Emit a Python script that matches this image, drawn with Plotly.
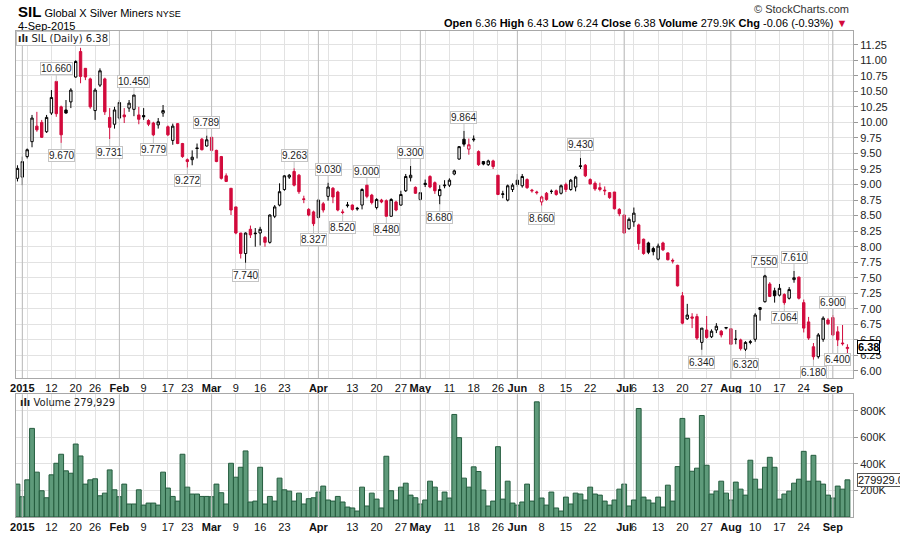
import numpy as np
import pandas as pd
import plotly.graph_objects as go

# ---------------- data ----------------
holidays = ["2015-01-19", "2015-02-16", "2015-04-03", "2015-05-25", "2015-07-03"]

opens = [
    9.10,
    9.12, 9.45, 9.69, 9.94, 10.00, 9.85, 10.15, 10.66, 10.25, 10.20,
    10.33, 10.73, 11.14, 10.87, 10.70, 10.19, 10.60, 10.70, 10.08, 9.97,
    10.07, 10.12, 10.23, 10.21, 10.12, 10.11, 10.03, 9.99, 9.96, 10.15,
    9.93, 9.71, 9.98, 9.66, 9.40, 9.40, 9.59, 9.73, 9.62, 9.76,
    9.55, 9.45, 9.14, 8.94, 8.64, 8.22, 7.89, 8.28, 8.22, 8.22,
    8.15, 8.07, 8.49, 8.67, 8.92, 9.12, 9.21, 9.15, 8.77, 8.60,
    8.56, 8.47, 8.69, 8.81, 8.94, 8.88, 8.56, 8.66, 8.67, 8.62,
    8.67, 8.99, 8.83, 8.63, 8.75, 8.74, 8.49, 8.72, 8.67, 8.90,
    9.11, 8.955, 8.76, 9.02, 9.13, 9.03, 8.82, 8.98, 8.99, 9.17,
    9.41, 9.73, 9.57, 9.72, 9.53, 9.37, 9.32, 9.38, 9.15, 8.84,
    8.75, 8.92, 9.07, 8.98, 9.08, 8.91, 8.88, 8.72, 8.86, 8.89,
    8.90, 8.86, 9.00, 8.92, 8.96, 9.29, 9.31, 9.08, 9.02, 8.95,
    8.91, 8.87, 8.88, 8.60, 8.51, 8.29, 8.40, 8.35, 8.12, 8.06,
    7.97, 7.80, 8.06, 7.90, 7.78, 7.70, 7.21, 6.84, 6.87, 6.875,
    6.46, 6.66, 6.55, 6.66, 6.64, 6.69, 6.68, 6.51, 6.50, 6.35,
    6.46, 6.51, 6.99, 7.115, 7.40, 7.29, 7.22, 7.23, 7.17, 7.47,
    7.51, 7.10, 6.79, 6.39, 6.23, 6.51, 6.82, 6.86, 6.63, 6.45,
    6.36]

highs = [
    9.31,
    9.45, 9.58, 10.12, 10.17, 10.04, 10.12, 10.52, 10.66, 10.27, 10.36,
    10.55, 11.00, 11.20, 10.87, 10.72, 10.55, 10.87, 10.72, 10.23, 10.25,
    10.36, 10.23, 10.36, 10.45, 10.25, 10.23, 10.05, 10.01, 10.07, 10.28,
    9.95, 9.98, 9.99, 9.67, 9.42, 9.55, 9.66, 9.75, 9.789, 9.77,
    9.56, 9.46, 9.18, 8.94, 8.64, 8.22, 8.23, 8.34, 8.30, 8.32,
    8.17, 8.52, 8.67, 9.02, 9.15, 9.17, 9.263, 9.17, 8.82, 8.62,
    8.58, 8.77, 8.72, 9.03, 8.96, 8.90, 8.60, 8.72, 8.68, 8.64,
    8.94, 9.00, 8.85, 8.78, 8.77, 8.76, 8.78, 8.74, 8.90, 9.17,
    9.30, 8.97, 8.88, 9.08, 9.15, 9.05, 8.99, 9.07, 9.10, 9.24,
    9.62, 9.864, 9.74, 9.79, 9.55, 9.38, 9.40, 9.40, 9.15, 8.90,
    9.00, 9.02, 9.17, 9.17, 9.10, 8.93, 8.90, 8.82, 8.88, 8.92,
    8.92, 9.00, 9.03, 9.09, 9.14, 9.43, 9.33, 9.10, 9.05, 9.03,
    8.97, 8.88, 8.88, 8.62, 8.52, 8.47, 8.63, 8.37, 8.13, 8.08,
    8.00, 8.05, 8.08, 7.91, 7.81, 7.71, 7.27, 7.08, 6.93, 6.92,
    6.69, 6.885, 6.67, 6.77, 6.66, 6.70, 6.68, 6.66, 6.52, 6.48,
    6.50, 6.93, 7.03, 7.55, 7.43, 7.34, 7.40, 7.25, 7.35, 7.61,
    7.52, 7.15, 6.87, 6.45, 6.61, 6.88, 6.85, 6.90, 6.72, 6.74,
    6.43]

lows = [
    9.05,
    8.99, 9.42, 9.60, 9.85, 9.75, 9.83, 10.12, 10.09, 9.67, 10.14,
    10.23, 10.72, 10.63, 10.68, 10.22, 10.04, 10.57, 10.12, 9.731, 9.90,
    10.04, 9.99, 10.17, 10.10, 9.97, 10.04, 9.94, 9.779, 9.90, 10.09,
    9.78, 9.64, 9.65, 9.43, 9.272, 9.31, 9.42, 9.55, 9.61, 9.53,
    9.36, 9.08, 9.04, 8.51, 8.20, 7.81, 7.74, 8.14, 8.00, 8.02,
    8.00, 8.05, 8.46, 8.65, 8.90, 9.09, 8.97, 8.85, 8.70, 8.49,
    8.327, 8.45, 8.55, 8.74, 8.70, 8.57, 8.52, 8.63, 8.58, 8.58,
    8.60, 8.78, 8.68, 8.60, 8.70, 8.48, 8.485, 8.57, 8.66, 8.88,
    9.05, 8.85, 8.74, 8.96, 8.94, 8.85, 8.68, 8.94, 8.96, 9.15,
    9.40, 9.61, 9.48, 9.69, 9.30, 9.31, 9.30, 9.25, 8.83, 8.78,
    8.73, 8.88, 8.96, 8.95, 8.93, 8.87, 8.84, 8.66, 8.74, 8.85,
    8.82, 8.84, 8.88, 8.90, 8.89, 9.25, 9.12, 9.00, 8.90, 8.89,
    8.83, 8.77, 8.60, 8.49, 8.21, 8.27, 8.32, 7.95, 7.87, 7.88,
    7.86, 7.78, 7.93, 7.78, 7.73, 7.36, 6.75, 6.82, 6.69, 6.50,
    6.34, 6.52, 6.53, 6.61, 6.54, 6.67, 6.43, 6.43, 6.33, 6.32,
    6.43, 6.47, 6.81, 7.10, 7.19, 7.10, 7.20, 7.064, 7.15, 7.42,
    7.15, 6.62, 6.50, 6.18, 6.20, 6.47, 6.74, 6.56, 6.40, 6.41,
    6.24]

closes = [
    9.26,
    9.37, 9.56, 10.07, 9.88, 9.76, 10.08, 10.40, 10.14, 9.80, 10.15,
    10.52, 10.98, 10.74, 10.73, 10.25, 10.52, 10.83, 10.17, 9.92, 10.20,
    10.32, 10.09, 10.31, 10.44, 10.05, 10.09, 9.97, 9.80, 10.01, 10.19,
    9.80, 9.94, 9.66, 9.45, 9.37, 9.44, 9.58, 9.56, 9.72, 9.55,
    9.37, 9.10, 9.05, 8.59, 8.22, 7.89, 8.22, 8.19, 8.21, 8.28,
    8.07, 8.51, 8.64, 8.885, 9.14, 9.15, 8.99, 8.885, 8.76, 8.51,
    8.37, 8.75, 8.59, 8.96, 8.80, 8.59, 8.55, 8.67, 8.60, 8.61,
    8.92, 8.81, 8.71, 8.76, 8.72, 8.49, 8.76, 8.59, 8.84, 9.13,
    9.15, 8.86, 8.87, 9.00, 8.96, 8.90, 8.92, 8.99, 9.07, 9.22,
    9.61, 9.65, 9.64, 9.73, 9.32, 9.33, 9.38, 9.29, 8.84, 8.85,
    8.98, 8.99, 9.00, 9.13, 8.95, 8.90, 8.87, 8.80, 8.76, 8.89,
    8.84, 8.98, 8.92, 9.07, 9.12, 9.30, 9.14, 9.01, 8.93, 8.92,
    8.90, 8.79, 8.61, 8.53, 8.22, 8.44, 8.54, 8.05, 7.89, 7.91,
    7.92, 8.01, 7.95, 7.79, 7.77, 7.37, 6.77, 6.90, 6.85, 6.53,
    6.69, 6.54, 6.64, 6.72, 6.58, 6.70, 6.43, 6.51, 6.36, 6.46,
    6.47, 6.90, 7.02, 7.53, 7.20, 7.21, 7.33, 7.10, 7.31, 7.50,
    7.17, 6.69, 6.53, 6.23, 6.58, 6.85, 6.76, 6.58, 6.50, 6.44,
    6.38]

volume_k = [
    248,
    153, 280, 668, 338, 198, 145, 318, 405, 473, 348,
    330, 550, 460, 248, 280, 288, 160, 180, 355, 205,
    153, 248, 98, 98, 205, 90, 105, 105, 90, 338,
    218, 155, 120, 473, 225, 173, 173, 155, 155, 153,
    248, 183, 98, 405, 300, 375, 498, 113, 120, 375,
    98, 155, 120, 293, 205, 195, 120, 180, 98, 138,
    145, 188, 233, 128, 120, 155, 113, 75, 68, 45,
    225, 83, 180, 135, 68, 458, 198, 128, 225, 255,
    165, 145, 98, 128, 270, 225, 120, 188, 143, 773,
    598, 293, 225, 378, 343, 203, 83, 120, 530, 135,
    270, 105, 90, 113, 248, 120, 868, 143, 90, 188,
    68, 45, 150, 98, 180, 173, 128, 225, 173, 165,
    120, 90, 128, 210, 248, 83, 128, 818, 150, 128,
    105, 150, 75, 240, 120, 380, 743, 593, 345, 368,
    765, 390, 173, 195, 270, 180, 128, 263, 210, 165,
    428, 285, 210, 375, 450, 375, 135, 173, 195, 255,
    285, 495, 270, 465, 270, 248, 165, 143, 233, 210,
    279.929]

tick_dates = ["2015-01-02", "2015-01-12", "2015-01-20", "2015-01-26",
              "2015-02-02", "2015-02-09", "2015-02-17", "2015-02-23",
              "2015-03-02", "2015-03-09", "2015-03-16", "2015-03-23",
              "2015-04-01", "2015-04-13", "2015-04-20", "2015-04-27",
              "2015-05-01", "2015-05-11", "2015-05-18", "2015-05-26",
              "2015-06-01", "2015-06-08", "2015-06-15", "2015-06-22",
              "2015-07-01", "2015-07-06", "2015-07-13", "2015-07-20", "2015-07-27",
              "2015-08-03", "2015-08-10", "2015-08-17", "2015-08-24",
              "2015-09-01"]
tick_labels = ["2015", "12", "20", "26", "Feb", "9", "17", "23",
               "Mar", "9", "16", "23", "Apr", "13", "20", "27",
               "May", "11", "18", "26", "Jun", "8", "15", "22",
               "Jul", "6", "13", "20", "27", "Aug", "10", "17", "24", "Sep"]

# trading days whose high / low carries a value tag
high_tags = [7, 23, 38, 56, 63, 71, 80, 91, 115, 153, 159, 167]
low_tags = [8, 18, 27, 34, 46, 60, 66, 75, 86, 107, 140, 149, 157, 163, 168]

# ---------------- derived ----------------
trading_days = pd.bdate_range("2015-01-02", "2015-09-04")
trading_days = trading_days[~trading_days.isin(pd.to_datetime(holidays))]
dates = [pd.Timestamp("2014-12-31")] + list(trading_days)
date_index = {d.strftime("%Y-%m-%d"): i - 1 for i, d in enumerate(dates)}

o = np.array(opens); h = np.array(highs); l = np.array(lows); c = np.array(closes)
n = len(c)
x = np.arange(n) - 1
prev_c = np.concatenate([[c[0]], c[:-1]])
up = c >= prev_c

tick_x = [date_index[d] for d in tick_dates]
tick_text = [t if t.isdigit() and t != "2015" else f"<b>{t}</b>" for t in tick_labels]

td = pd.Series(trading_days)
iso = td.dt.isocalendar()
wkey = iso["year"].astype(str) + "-" + iso["week"].astype(str)
week_starts = [date_index[d.strftime("%Y-%m-%d")] for d in td[wkey != wkey.shift()]]
month_starts = [date_index[d.strftime("%Y-%m-%d")] for d in td[td.dt.month != td.dt.month.shift()]]
minor_x = sorted(set(week_starts) - set(tick_x))

PRICE_RANGE = [5.8825, 11.4706]
VOL_RANGE = [0, 925000]

RED = "#d20a3c"
fig = go.Figure()

# darker month separators, drawn beneath the candles / bars
mx, my, my2 = [], [], []
for m in month_starts:
    mx += [m, m, None]
    my += [PRICE_RANGE[0], PRICE_RANGE[1], None]
    my2 += [VOL_RANGE[0], VOL_RANGE[1], None]
fig.add_trace(go.Scatter(x=mx, y=my, mode="lines", line=dict(color="#bcbcbc", width=1),
                         hoverinfo="skip", showlegend=False))
fig.add_trace(go.Scatter(x=mx, y=my2, xaxis="x2", yaxis="y2", mode="lines",
                         line=dict(color="#bcbcbc", width=1), hoverinfo="skip", showlegend=False))

fig.add_trace(go.Candlestick(
    x=x[up], open=o[up], high=h[up], low=l[up], close=c[up],
    increasing=dict(line=dict(color="black", width=1), fillcolor="white"),
    decreasing=dict(line=dict(color="black", width=1), fillcolor="black"),
    showlegend=False, hoverinfo="skip"))
fig.add_trace(go.Candlestick(
    x=x[~up], open=o[~up], high=h[~up], low=l[~up], close=c[~up],
    increasing=dict(line=dict(color=RED, width=1), fillcolor="white"),
    decreasing=dict(line=dict(color=RED, width=1), fillcolor=RED),
    showlegend=False, hoverinfo="skip"))
fig.add_trace(go.Bar(
    x=x, y=np.array(volume_k) * 1000, xaxis="x2", yaxis="y2", width=1,
    marker=dict(color="#5e9a7a", line=dict(color="#245c3e", width=1)),
    showlegend=False, hoverinfo="skip"))

GRID = "#e2e2e2"
AXL = "#a8a8a8"
xcommon = dict(range=[-1.3, 171.15], tickmode="array", tickvals=tick_x, ticktext=tick_text,
               tickangle=0, showgrid=True, gridcolor=GRID, gridwidth=1, automargin=False,
               minor=dict(tickmode="array", tickvals=minor_x, showgrid=True, gridcolor=GRID, ticks=""),
               showline=True, mirror=True, linecolor=AXL, ticks="", zeroline=False,
               tickfont=dict(family="Liberation Sans", size=11, color="#111"),
               rangeslider=dict(visible=False), fixedrange=True)
ytick_font = dict(family="Liberation Sans", size=11, color="#222")

fig.update_layout(
    width=900, height=534, margin=dict(l=16, r=47, t=31, b=17, autoexpand=False),
    paper_bgcolor="white", plot_bgcolor="white", showlegend=False, hovermode=False,
    xaxis=dict(domain=[0, 1], anchor="y", **xcommon),
    xaxis2=dict(domain=[0, 1], anchor="y2", matches="x", **xcommon),
    yaxis=dict(domain=[0.2854, 1], anchor="x", side="right", range=PRICE_RANGE, automargin=False,
               tickmode="array", tickvals=list(np.arange(6.0, 11.26, 0.25)), tickformat=".2f",
               showgrid=True, gridcolor=GRID, ticks="outside", ticklen=4, tickcolor="#999",
               showline=True, mirror=True, linecolor=AXL, zeroline=False, tickfont=ytick_font),
    yaxis2=dict(domain=[0, 0.2525], anchor="x2", side="right", range=VOL_RANGE, automargin=False,
                tickmode="array", tickvals=[200000, 400000, 600000, 800000],
                ticktext=["200K", "400K", "600K", "800K"],
                showgrid=True, gridcolor=GRID, ticks="outside", ticklen=4, tickcolor="#999",
                showline=True, mirror=True, linecolor=AXL, zeroline=False, tickfont=ytick_font),
)

# value tags on swing highs / lows
ann = []
tag_font = dict(family="Liberation Sans", size=10, color="#222")
for i in high_tags:
    ann.append(dict(x=i, y=h[i + 1], xref="x", yref="y", text=f"{h[i + 1]:.3f}",
                    showarrow=True, arrowhead=0, arrowwidth=1, arrowcolor="#c4c4c4",
                    ax=0, ay=-13, bgcolor="white", bordercolor="#c4c4c4",
                    borderwidth=1, borderpad=0, font=tag_font))
for i in low_tags:
    ann.append(dict(x=i, y=l[i + 1], xref="x", yref="y", text=f"{l[i + 1]:.3f}",
                    showarrow=True, arrowhead=0, arrowwidth=1, arrowcolor="#c4c4c4",
                    ax=0, ay=13, bgcolor="white", bordercolor="#c4c4c4",
                    borderwidth=1, borderpad=0, font=tag_font))

def py(pix):
    return (517 - pix) / 486.0

last = len(c) - 1
chg = c[last] - c[last - 1]
ann += [
    dict(xref="paper", yref="paper", x=0, y=py(11.5), xanchor="left", yanchor="middle", showarrow=False,
         text="<span style='font-size:15px'><b>SIL</b></span> Global X Silver Miners "
              "<span style='font-size:9px'>NYSE</span>",
         font=dict(family="Liberation Sans", size=11, color="#000")),
    dict(xref="paper", yref="paper", x=0, y=py(25.5), xanchor="left", yanchor="middle", showarrow=False,
         text=dates[-1].strftime("%-d-%b-%Y"), font=dict(family="Liberation Sans", size=11, color="#000")),
    dict(xref="paper", yref="paper", x=1, xshift=-2, y=py(9), xanchor="right", yanchor="middle",
         showarrow=False, text="© StockCharts.com",
         font=dict(family="Liberation Sans", size=11, color="#333")),
    dict(xref="paper", yref="paper", x=1, xshift=-4, y=py(23.5), xanchor="right", yanchor="middle",
         showarrow=False,
         text=(f"<b>Open</b> {o[last]:.2f} <b>High</b> {h[last]:.2f} <b>Low</b> {l[last]:.2f} "
               f"<b>Close</b> {c[last]:.2f} <b>Volume</b> {volume_k[last]:.1f}K "
               f"<b>Chg</b> {chg:.2f} ({chg / c[last - 1] * 100:.2f}%) "
               f"<span style='color:{RED}'>▼</span>"),
         font=dict(family="Liberation Sans", size=11, color="#000")),
    dict(xref="paper", yref="paper", x=0, y=1, xanchor="left", yanchor="top", showarrow=False,
         text=f"<b>ılı</b> SIL (Daily) {c[last]:.2f}", bgcolor="white", bordercolor="#c4c4c4",
         borderwidth=1, borderpad=1, font=dict(family="DejaVu Sans", size=10, color="#222")),
    dict(xref="paper", yref="paper", x=0, xshift=2, y=py(402), xanchor="left", yanchor="middle",
         showarrow=False, text=f"<b>ılı</b> Volume {int(round(volume_k[last] * 1000)):,}",
         font=dict(family="DejaVu Sans", size=10, color="#222")),
    dict(xref="paper", yref="y", x=1, xshift=4, y=c[last], xanchor="left", yanchor="middle",
         showarrow=False, text=f"<b>{c[last]:.2f}</b>", bgcolor="white", bordercolor="#000",
         borderwidth=1, borderpad=0, font=dict(family="Liberation Sans", size=11, color="#000")),
    dict(xref="paper", yref="y2", x=1, xshift=4, y=volume_k[last] * 1000, xanchor="left",
         yanchor="middle", showarrow=False, text=f"{volume_k[last] * 1000:.1f}",
         bgcolor="white", bordercolor="#555", borderwidth=1, borderpad=0,
         font=dict(family="Liberation Sans", size=11, color="#111")),
]
fig.update_layout(annotations=ann)

fig.write_html("out.html")
